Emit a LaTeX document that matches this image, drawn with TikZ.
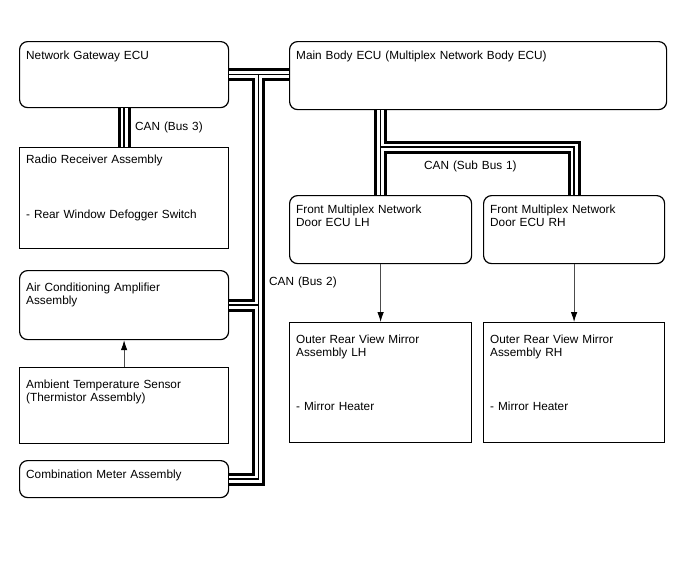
\documentclass[tikz,border=0pt]{standalone}
\usepackage{fontspec}
\setmainfont{Liberation Sans}
\usetikzlibrary{arrows.meta}
\tikzset{
  ecu/.style={draw, line width=1.2pt, rounded corners=8pt, anchor=north west, inner sep=0pt},
  part/.style={draw, line width=1.2pt, anchor=north west, inner sep=0pt},
  txt/.style={anchor=base west, inner sep=0pt, align=left, text width=360pt,
    font=\fontsize{11.8}{13.5}\selectfont},
  sig/.style={draw=black!70, line width=0.8pt, -{Latex[length=10pt,width=6.5pt,black]}},
}
\begin{document}
\begin{tikzpicture}[x=1pt,y=-1pt]
    \useasboundingbox (0,0) rectangle (688,560);
    % left column
    \node[ecu, minimum width=209pt, minimum height=66pt] (gw) at (19,41) {};
    \node[part, minimum width=209pt, minimum height=101pt] (radio) at (19,147) {};
    \node[ecu, minimum width=209pt, minimum height=69pt] (ac) at (19,270) {};
    \node[part, minimum width=209pt, minimum height=76pt] (amb) at (19,367) {};
    \node[ecu, minimum width=209pt, minimum height=37pt] (meter) at (19,460) {};
    % right side
    \node[ecu, minimum width=377pt, minimum height=68pt] (mb) at (289,41) {};
    \node[ecu, minimum width=182pt, minimum height=68pt] (dl) at (289,195) {};
    \node[ecu, minimum width=181pt, minimum height=68pt] (dr) at (483,195) {};
    \node[part, minimum width=182pt, minimum height=120pt] (ml) at (289,322) {};
    \node[part, minimum width=181pt, minimum height=120pt] (mr) at (483,322) {};
    % texts
    \node[txt] (gwtxt) at ([shift={(7,18)}]gw.north west) {Network Gateway ECU};
    \node[txt] (radiotxt) at ([shift={(7,16)}]radio.north west) {Radio Receiver Assembly\\[41.5pt]- Rear Window Defogger Switch};
    \node[txt] (actxt) at ([shift={(7,21)}]ac.north west) {Air Conditioning Amplifier\\Assembly};
    \node[txt] (ambtxt) at ([shift={(7,21)}]amb.north west) {Ambient Temperature Sensor\\(Thermistor Assembly)};
    \node[txt] (metertxt) at ([shift={(7,18)}]meter.north west) {Combination Meter Assembly};
    \node[txt] (mbtxt) at ([shift={(7,18)}]mb.north west) {Main Body ECU (Multiplex Network Body ECU)};
    \node[txt] (dltxt) at ([shift={(7,18)}]dl.north west) {Front Multiplex Network\\Door ECU LH};
    \node[txt] (drtxt) at ([shift={(7,18)}]dr.north west) {Front Multiplex Network\\Door ECU RH};
    \node[txt] (mltxt) at ([shift={(7,21)}]ml.north west) {Outer Rear View Mirror\\Assembly LH\\[40.5pt]- Mirror Heater};
    \node[txt] (mrtxt) at ([shift={(7,21)}]mr.north west) {Outer Rear View Mirror\\Assembly RH\\[40.5pt]- Mirror Heater};
    % bus labels
    \node[txt] (bus3) at (135,130) {CAN (Bus 3)};
    \node[txt] (bus2) at (269,285) {CAN (Bus 2)};
    \node[txt] (subbus) at (424,169) {CAN (Sub Bus 1)};
    % bus lines
    \coordinate (trunk) at (258.5,74);
    \coordinate (sb) at (380,147);
    \foreach \lw/\lc in {13/black, 7/white, 1.5/black} {
      \draw[line width=\lw pt, \lc] (gw.south) -- (radio.north)
        (gw.east) -- (gw.east -| mb.west)
        (trunk) -- (trunk |- meter.east) -- (meter.east)
        (ac.east) -- (ac.east -| trunk)
        (dl.north |- mb.south) -- (dl.north)
        (sb) -- (sb -| dr.north) -- (dr.north);
    }
    % signal arrows
    \draw[sig] (amb.north) -- (ac.south);
    \draw[sig] (dl.south) -- (ml.north);
    \draw[sig] (dr.south) -- (mr.north);
\end{tikzpicture}
\end{document}
